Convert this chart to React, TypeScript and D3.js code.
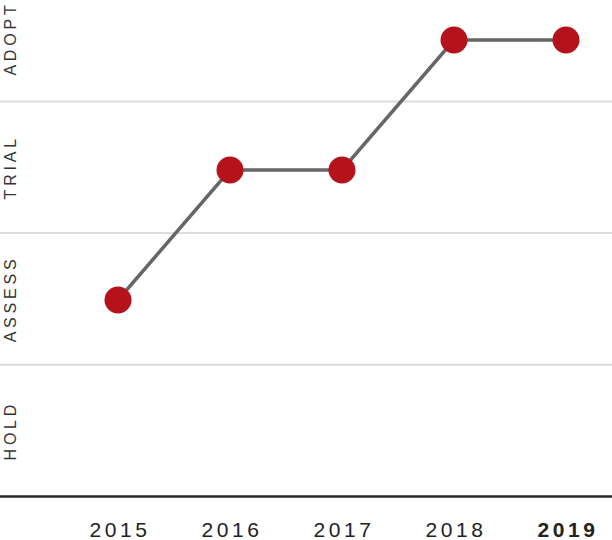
import React from "react";
import * as d3 from "d3";

const rings = ["HOLD", "ASSESS", "TRIAL", "ADOPT"];
const years = ["2015", "2016", "2017", "2018", "2019"];
const positions = ["ASSESS", "TRIAL", "TRIAL", "ADOPT", "ADOPT"];
const highlightYear = "2019";

const W = 612;
const H = 540;

export default function App() {
  const baseY = 496.5;
  const step = 131.7;
  const y = d3
    .scaleBand<string>()
    .domain(rings)
    .range([baseY, baseY - step * rings.length])
    .paddingInner(0)
    .paddingOuter(0);
  const yPt = d3.scalePoint<string>().domain(rings).range([430, 40]);
  const x = d3.scalePoint<string>().domain(years).range([118, 566]);

  const pts = years.map((yr, i) => ({
    x: x(yr)!,
    y: yPt(positions[i])!,
  }));
  const line = d3
    .line<{ x: number; y: number }>()
    .x((d) => d.x)
    .y((d) => d.y);

  return (
    <svg
      width={W}
      height={H}
      style={{ position: "absolute", left: 0, top: 0, fontFamily: "'Liberation Sans', Arial, sans-serif" }}
    >
      <rect width={W} height={H} fill="#fff" />
      {rings.slice(0, rings.length - 1).map((r) => (
        <line
          key={r}
          x1={0}
          x2={W}
          y1={y(r)!}
          y2={y(r)!}
          stroke="#dcdcdc"
          strokeWidth={2}
        />
      ))}
      <line x1={0} x2={W} y1={baseY} y2={baseY} stroke="#23292d" strokeWidth={2.5} />
      {rings.map((r) => {
        const cy = y(r)! + step / 2 + (r === "ADOPT" ? 3 : 0);
        return (
          <text
            key={r}
            transform={`translate(16,${cy}) rotate(-90)`}
            textAnchor="middle"
            fontSize={16}
            letterSpacing={3.8}
            fill="#333"
          >
            {r}
          </text>
        );
      })}
      <path d={line(pts)!} fill="none" stroke="#666" strokeWidth={3.5} />
      {pts.map((p, i) => (
        <circle key={i} cx={p.x} cy={p.y} r={13.5} fill="#b5121b" />
      ))}
      {years.map((yr) => (
        <text
          key={yr}
          x={x(yr)! + 2}
          y={537}
          textAnchor="middle"
          fontSize={21}
          letterSpacing={3.6}
          fontWeight={yr === highlightYear ? "bold" : "normal"}
          fill="#222"
        >
          {yr}
        </text>
      ))}
    </svg>
  );
}
